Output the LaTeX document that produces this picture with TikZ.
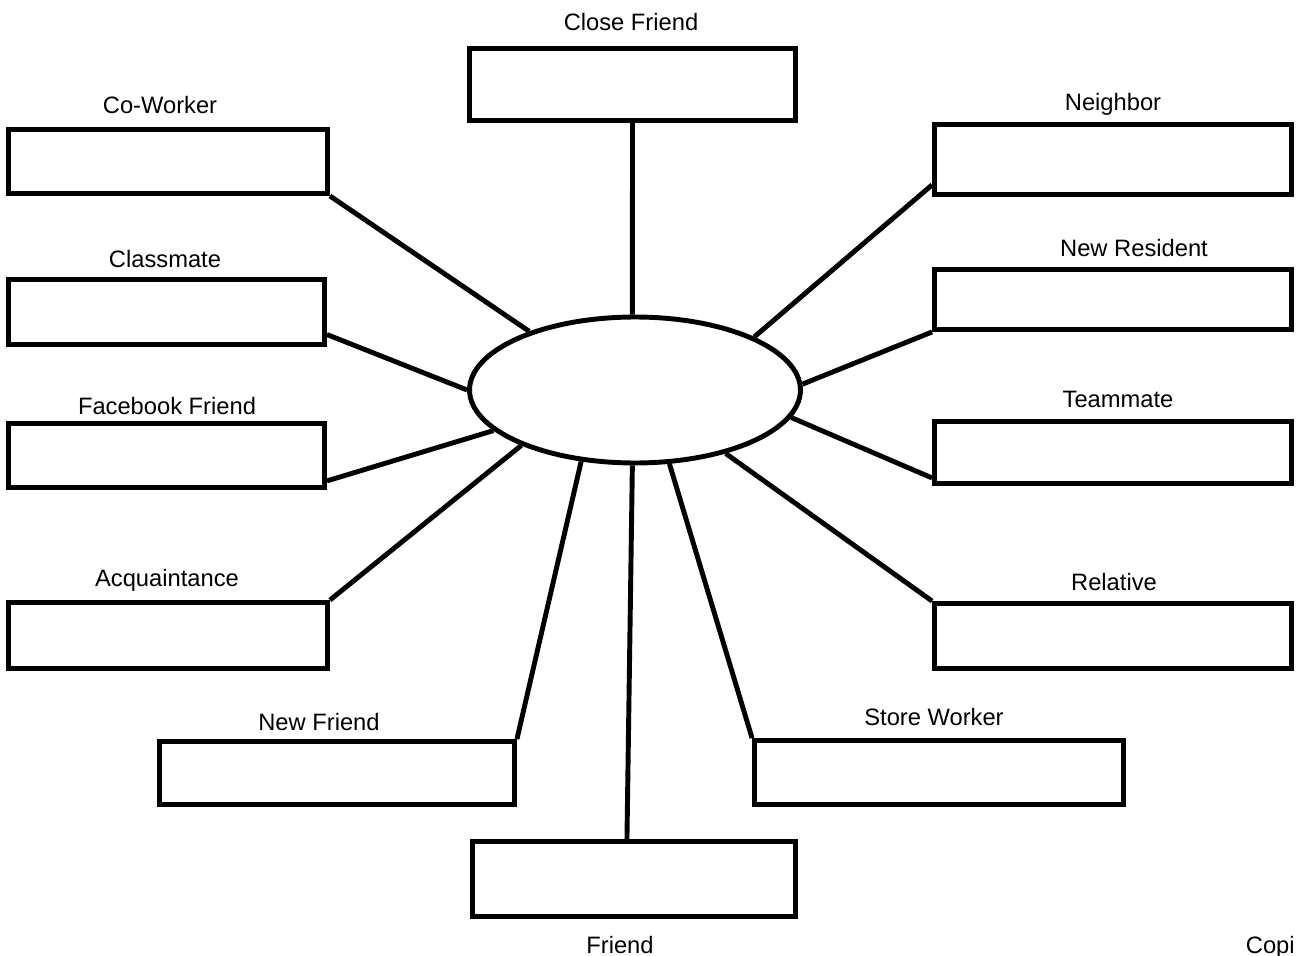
\documentclass[tikz,border=0pt]{standalone}
\usepackage{fontspec}
\setmainfont{Liberation Sans}
\usetikzlibrary{shapes.geometric}

\begin{document}
\begin{tikzpicture}
  [x=0.02cm,y=-0.02cm,
   box/.style 2 args={draw,line width=2.8pt,inner sep=0pt,minimum width=#1*0.02cm,minimum height=#2*0.02cm},
   lbl/.style={anchor=base,inner sep=0pt,font=\fontsize{13.5}{16}\selectfont},
   spoke/.style={line width=2.8pt}]
 \useasboundingbox (0,0) rectangle (1296,956);

 \node (hub)[draw,ellipse,line width=2.8pt,minimum width=6.62cm,minimum height=2.92cm] at (635,390) {};

 \node (cf)[box={326}{72}] at (632.5,84.5) {};
 \node (cw)[box={319}{64}] at (168,161.5) {};
 \node (cm)[box={316}{65}] at (166.5,312) {};
 \node (fb)[box={316}{64}] at (166.5,455.5) {};
 \node (aq)[box={319}{66}] at (168,635.5) {};
 \node (nf)[box={355}{63}] at (337,773) {};
 \node (fr)[box={323}{75}] at (634,879) {};
 \node (sw)[box={369}{64}] at (939,772.5) {};
 \node (rel)[box={357}{65}] at (1113,636) {};
 \node (tm)[box={357}{62}] at (1113,452.5) {};
 \node (nr)[box={357}{60}] at (1113,299.5) {};
 \node (nb)[box={357}{70}] at (1113,159.5) {};

 \node (cfl)[lbl] at (631,31) {Close Friend};
 \node (cwl)[lbl] at (160,114) {Co-Worker};
 \node (cml)[lbl] at (165,268) {Classmate};
 \node (fbl)[lbl] at (167,415) {Facebook Friend};
 \node (aql)[lbl] at (167,586) {Acquaintance};
 \node (nfl)[lbl] at (319,730) {New Friend};
 \node (frl)[lbl] at (620,953) {Friend};
 \node (swl)[lbl] at (934,725) {Store Worker};
 \node (rell)[lbl] at (1114,590) {Relative};
 \node (tml)[lbl] at (1118,408) {Teammate};
 \node (nrl)[lbl] at (1134,257) {New Resident};
 \node (nbl)[lbl] at (1113,111) {Neighbor};
 \node (copy)[lbl,anchor=base east] at (1295,953) {Copi};

 \foreach \from/\to in {cf.south/hub.92,cw.south east/hub.151,cm.-8/hub.180,fb.-9/hub.-164,
   aq.north east/hub.-154,nf.north east/hub.-127,fr.100/hub.-92,sw.north west/hub.-65,
   rel.north west/hub.-35,tm.188/hub.-10,nr.south west/hub.2,nb.188/hub.24}
    \draw[spoke] (\from) -- (\to);
\end{tikzpicture}
\end{document}
